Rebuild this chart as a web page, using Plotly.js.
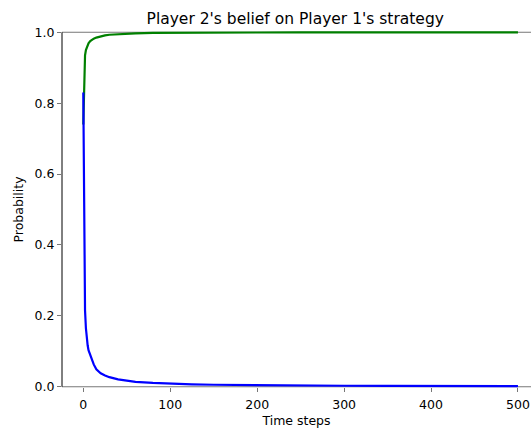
<!DOCTYPE html>
<html>
<head>
<meta charset="utf-8">
<script src="https://cdn.plot.ly/plotly-3.0.1.min.js"></script>
<style>html,body{margin:0;padding:0;overflow:hidden;background:#fff;}#chart{width:531px;height:428px;}</style>
</head>
<body>
<div id="chart"></div>
<script>
const timeSteps = [0,1,2,3,4,5,6,8,10,12,15,20,25,30,40,50,60,80,100,125,150,200,250,300,350,400,450,500];
const blueBelief = [0.83,0.34,0.215,0.165,0.135,0.117,0.103,0.089,0.076,0.063,0.049,0.038,0.032,0.027,0.021,0.017,0.014,0.011,0.0085,0.0068,0.0057,0.0043,0.0034,0.0028,0.0024,0.0021,0.0019,0.0017];
const greenBelief = [0.74,0.90,0.935,0.95,0.958,0.964,0.969,0.975,0.979,0.982,0.985,0.989,0.991,0.993,0.995,0.996,0.997,0.998,0.9985,0.999,0.9991,0.9993,0.9995,0.9996,0.9997,0.9997,0.9998,0.9998];
const xTicks = [0,100,200,300,400,500];
const yTicks = [0,0.2,0.4,0.6,0.8,1.0];
const yTickText = ['0.0','0.2','0.4','0.6','0.8','1.0'];

const font = {family: 'DejaVu Sans', size: 12.5, color: '#000'};
const yPad = 0.012;
const traces = [
  {x: timeSteps, y: greenBelief, mode: 'lines', line: {color: '#008000', width: 2.2}, hoverinfo: 'skip'},
  {x: timeSteps, y: blueBelief, mode: 'lines', line: {color: '#0000ff', width: 2.2}, hoverinfo: 'skip'}
];
const layout = {
  width: 531, height: 428,
  margin: {l: 62, r: 0, t: 28.25, b: 37.25},
  paper_bgcolor: '#fff', plot_bgcolor: '#fff',
  showlegend: false,
  font: font,
  title: {text: "Player 2's belief on Player 1's strategy", font: {family: 'DejaVu Sans', size: 15.5, color: '#000'}, x: 0.556, xanchor: 'center', y: 0.957, yanchor: 'middle'},
  xaxis: {
    range: [-24.5, 515], showgrid: false, zeroline: false,
    anchor: 'free', position: yPad / (1 + 2 * yPad),
    tickvals: xTicks, ticks: 'outside', ticklen: 4, tickcolor: '#777', tickwidth: 1,
    ticklabelstandoff: 2,
    showline: false, layer: 'below traces',
    tickfont: font,
    title: {text: 'Time steps', font: font, standoff: 6}
  },
  yaxis: {
    range: [-yPad, 1 + yPad], showgrid: false, zeroline: false,
    tickvals: yTicks, ticktext: yTickText, ticks: 'outside', ticklen: 4, tickcolor: '#777', tickwidth: 1,
    showline: false, layer: 'below traces',
    tickfont: font,
    title: {text: 'Probability', font: font, standoff: 8}
  },
  shapes: [
    {type: 'line', xref: 'paper', yref: 'y', x0: 0, x1: 1, y0: 1, y1: 1, line: {color: '#777', width: 1}, layer: 'below'},
    {type: 'line', xref: 'paper', yref: 'y', x0: 0, x1: 1, y0: 0, y1: 0, line: {color: '#777', width: 1}, layer: 'below'},
    {type: 'line', xref: 'paper', yref: 'y', x0: 0, x1: 0, y0: 0, y1: 1, line: {color: '#000', width: 1}, layer: 'below'}
  ]
};
Plotly.newPlot('chart', traces, layout, {staticPlot: true, displayModeBar: false});
</script>
</body>
</html>
